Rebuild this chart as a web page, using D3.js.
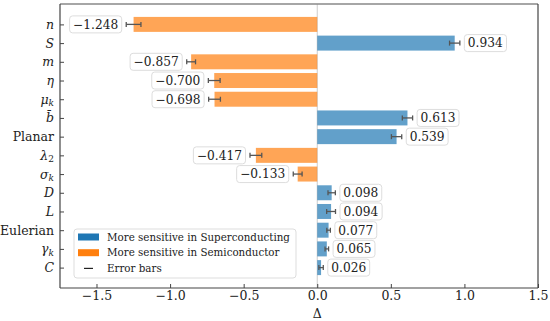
<!DOCTYPE html>
<html><head><meta charset="utf-8">
<script src="https://cdn.jsdelivr.net/npm/d3@7"></script>
<style>body{margin:0;background:#fff}svg{display:block}text{font-family:"DejaVu Serif","Liberation Serif",serif}</style>
</head><body>
<script>
const categories = ["n","S","m","η","μk","b̄","Planar","λ2","σk","D","L","Eulerian","γk","C"];
const values = [-1.248,0.934,-0.857,-0.700,-0.698,0.613,0.539,-0.417,-0.133,0.098,0.094,0.077,0.065,0.026];
const errors = [0.05,0.035,0.03,0.04,0.04,0.035,0.035,0.04,0.03,0.025,0.03,0.012,0.012,0.015];
const xTicks = [-1.5,-1.0,-0.5,0.0,0.5,1.0,1.5];
const legendLabels = ["More sensitive in Superconducting","More sensitive in Semiconductor","Error bars"];

const W=550,H=321, L=60,R=538,T=4,B=288;
const svg=d3.select("body").append("svg").attr("width",W).attr("height",H);
const x=d3.scaleLinear().domain([-1.748,1.5]).range([L,R]);
const n=categories.length;
const y=d3.scaleLinear().domain([-1.09, n-1+1.09]).range([T,B]);
const bh=(y(0.4)-y(-0.4));

svg.append("line").attr("x1",x(0)).attr("x2",x(0)).attr("y1",T).attr("y2",B).attr("stroke","#ccc").attr("stroke-width",1);

svg.selectAll("rect.bar").data(values).join("rect")
 .attr("x",d=>Math.min(x(0),x(d))).attr("width",d=>Math.abs(x(d)-x(0)))
 .attr("y",(d,i)=>y(i)-bh/2).attr("height",bh)
 .attr("fill",d=>d>=0?"#1f77b4":"#ff7f0e").attr("fill-opacity",0.7);

const eg=svg.append("g").attr("stroke","#555").attr("stroke-width",1.3);
values.forEach((v,i)=>{
  const x1=x(v-errors[i]),x2=x(v+errors[i]),yy=y(i);
  eg.append("line").attr("x1",x1).attr("x2",x2).attr("y1",yy).attr("y2",yy);
  eg.append("line").attr("x1",x1).attr("x2",x1).attr("y1",yy-2.5).attr("y2",yy+2.5);
  eg.append("line").attr("x1",x2).attr("x2",x2).attr("y1",yy-2.5).attr("y2",yy+2.5);
});

values.forEach((v,i)=>{
  const s=(v<0?"\u2212":"")+Math.abs(v).toFixed(3);
  const g=svg.append("g");
  const t=g.append("text").text(s).attr("font-size",12.2)
   .attr("y",y(i)).attr("dy","0.36em").attr("fill","#222");
  const edge=v>=0?x(v+errors[i])+8:x(v-errors[i])-8;
  t.attr("x",edge).attr("text-anchor",v>=0?"start":"end");
  const bb=t.node().getBBox();
  g.insert("rect","text").attr("x",bb.x-3.5).attr("y",y(i)-8.5).attr("width",bb.width+7).attr("height",17)
   .attr("rx",3).attr("fill","#fff").attr("fill-opacity",0.9).attr("stroke","#ddd").attr("stroke-width",1);
});

svg.append("line").attr("x1",L).attr("x2",R).attr("y1",T).attr("y2",T).attr("stroke","#888").attr("stroke-width",1.5);
svg.append("line").attr("x1",R).attr("x2",R).attr("y1",T).attr("y2",B).attr("stroke","#444").attr("stroke-width",1.2);
svg.append("line").attr("x1",L).attr("x2",L).attr("y1",T).attr("y2",B).attr("stroke","#444").attr("stroke-width",1.2);
svg.append("line").attr("x1",L).attr("x2",R).attr("y1",B).attr("y2",B).attr("stroke","#444").attr("stroke-width",1.2);

const xa=svg.append("g").attr("transform",`translate(0,${B})`)
 .call(d3.axisBottom(x).tickValues(xTicks).tickSizeInner(-4).tickSizeOuter(0).tickPadding(3)
   .tickFormat(d=>(d<0?"\u2212":"")+Math.abs(d).toFixed(1)));
xa.select(".domain").remove();
xa.attr("font-family",null);
xa.selectAll("line").attr("stroke","#444");
xa.selectAll("text").attr("font-size",12.5).attr("fill","#222");

const ya=svg.append("g").attr("transform",`translate(${L},0)`)
 .call(d3.axisLeft(y).tickValues(d3.range(n)).tickSizeInner(-4).tickSizeOuter(0).tickFormat(""));
ya.select(".domain").remove();
ya.selectAll("line").attr("stroke","#444");
categories.forEach((c,i)=>{
  const t=svg.append("text").attr("x",L-6).attr("y",y(i)).attr("dy","0.36em").attr("text-anchor","end")
    .attr("font-size",12.5).attr("fill","#222");
  if(c==="Planar"||c==="Eulerian"){t.text(c);}
  else if(c.length===2 && c!=="b̄"){
    t.append("tspan").text(c[0]).attr("font-style","italic");
    t.append("tspan").text(c[1]).attr("font-style", /\d/.test(c[1])?"normal":"italic").attr("font-size",9).attr("dy","0.25em");
  } else {t.text(c).attr("font-style","italic");}
});

svg.append("text").attr("x",x(0)).attr("y",318).attr("text-anchor","middle")
 .attr("font-size",12.5).attr("fill","#222").text("Δ");

const lg=svg.append("g");
lg.append("rect").attr("x",74).attr("y",229).attr("width",222).attr("height",49).attr("rx",3)
 .attr("fill","#fff").attr("fill-opacity",0.85).attr("stroke","#ddd");
const lcol=["#1f77b4","#ff7f0e",null];
legendLabels.forEach((lab,i)=>{
  const yy=237+i*15.7;
  if(lcol[i]) lg.append("rect").attr("x",78).attr("y",yy-3.5).attr("width",21).attr("height",7).attr("fill",lcol[i]);
  else lg.append("line").attr("x1",84).attr("x2",93).attr("y1",yy).attr("y2",yy).attr("stroke","#222").attr("stroke-width",1.2);
  lg.append("text").attr("x",107).attr("y",yy).attr("dy","0.36em").attr("font-size",10.3)
   .attr("fill","#222").text(lab);
});
</script>
</body></html>
